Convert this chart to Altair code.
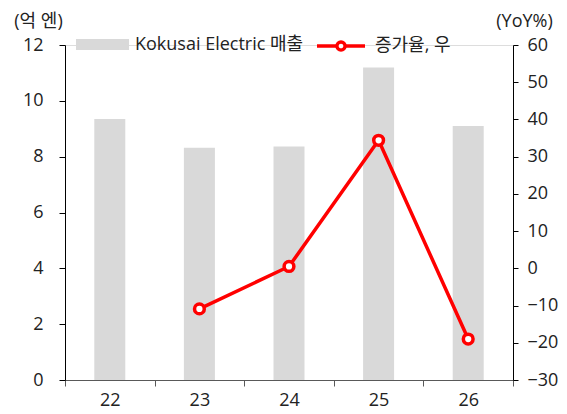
import altair as alt
import pandas as pd

years = ["22", "23", "24", "25", "26"]
sales = [9.35, 8.32, 8.36, 11.19, 9.10]
growth = [None, -10.9, 0.5, 34.4, -19.0]
bar_name = "Kokusai Electric 매출"
line_name = "증가율, 우"

df = pd.DataFrame({"year": years, "sales": sales, "growth": growth,
                   "s1": [bar_name] * 5, "s2": [line_name] * 5})

FONT = "Open Sans, Noto Sans CJK KR"
FS = 18
LBL = "#222222"

x = alt.X("year:N", sort=years, title=None,
          scale=alt.Scale(paddingInner=0, paddingOuter=0),
          axis=alt.Axis(tickBand="extent", labelAngle=0, labelFontSize=FS, labelFont=FONT,
                        labelColor=LBL, domainColor="#595959", tickColor="#595959",
                        tickSize=6, labelPadding=5, grid=False))

rect_path = "M-1,-0.2075H1V0.2075H-1Z"
bars = alt.Chart(df).mark_bar(size=31).encode(
    x=x,
    y=alt.Y("sales:Q", scale=alt.Scale(domain=[0, 12], nice=False),
            axis=alt.Axis(values=[0, 2, 4, 6, 8, 10, 12], title="(억 엔)", titleAngle=0,
                          titleX=-27, titleY=-24, titleAlign="center", titleBaseline="middle",
                          titleFont=FONT, titleFontSize=FS, titleFontWeight="normal", titleColor=LBL,
                          labelFont=FONT, labelFontSize=FS, labelColor=LBL, labelPadding=16,
                          tickSize=6, domainColor="black", tickColor="black", grid=False)),
    fill=alt.Fill("s1:N", scale=alt.Scale(range=["#d9d9d9"]),
                  legend=alt.Legend(title=None, orient="none", legendX=11, legendY=-27,
                                    direction="horizontal", symbolType=rect_path, symbolSize=2809,
                                    symbolStrokeWidth=0, padding=0, labelFont=FONT,
                                    labelFontSize=FS, labelColor=LBL, labelOffset=6,
                                    labelLimit=400)),
)

line_path = ("M-1,0H-0.17M0.17,0H1M-0.17,0A0.17,0.17 0 1,0 0.17,0"
             "A0.17,0.17 0 1,0 -0.17,0")
yr = alt.Y("growth:Q", scale=alt.Scale(domain=[-30, 60], nice=False),
           axis=alt.Axis(orient="right", values=list(range(-30, 61, 10)), title="(YoY%)",
                         titleAngle=0, titleX=11, titleY=-24, titleAlign="center",
                         titleBaseline="middle", titleFont=FONT, titleFontSize=FS,
                         titleFontWeight="normal", titleColor=LBL,
                         labelFont=FONT, labelFontSize=FS, labelColor=LBL, labelPadding=9,
                         tickSize=5, domainColor="black", tickColor="black", grid=False))

base = alt.Chart(df).transform_filter("datum.growth != null")
line = base.mark_line(strokeWidth=3.5).encode(
    x=x, y=yr,
    stroke=alt.Stroke("s2:N", scale=alt.Scale(range=["#ff0000"]),
                      legend=alt.Legend(title=None, orient="none", legendX=250, legendY=-25,
                                        direction="horizontal", symbolType=line_path,
                                        symbolSize=2304, symbolStrokeWidth=3.5,
                                        symbolFillColor="white", padding=0, labelFont=FONT,
                                        labelFontSize=FS, labelColor=LBL, labelOffset=8,
                                        labelLimit=400)),
)
points = base.mark_point(filled=True, fill="white", stroke="#ff0000", strokeWidth=3.5,
                         size=95, opacity=1).encode(x=x, y=yr)

right = alt.layer(line, points)

chart = alt.layer(bars, right).resolve_scale(y="independent").properties(
    width=448, height=335,
    padding={"left": 57, "top": 37, "right": 46, "bottom": 32},
    autosize=alt.AutoSizeParams(type="none"),
).configure_view(stroke=None).configure(font=FONT)

chart.save("out.html", embed_options={"renderer": "svg", "actions": False})
